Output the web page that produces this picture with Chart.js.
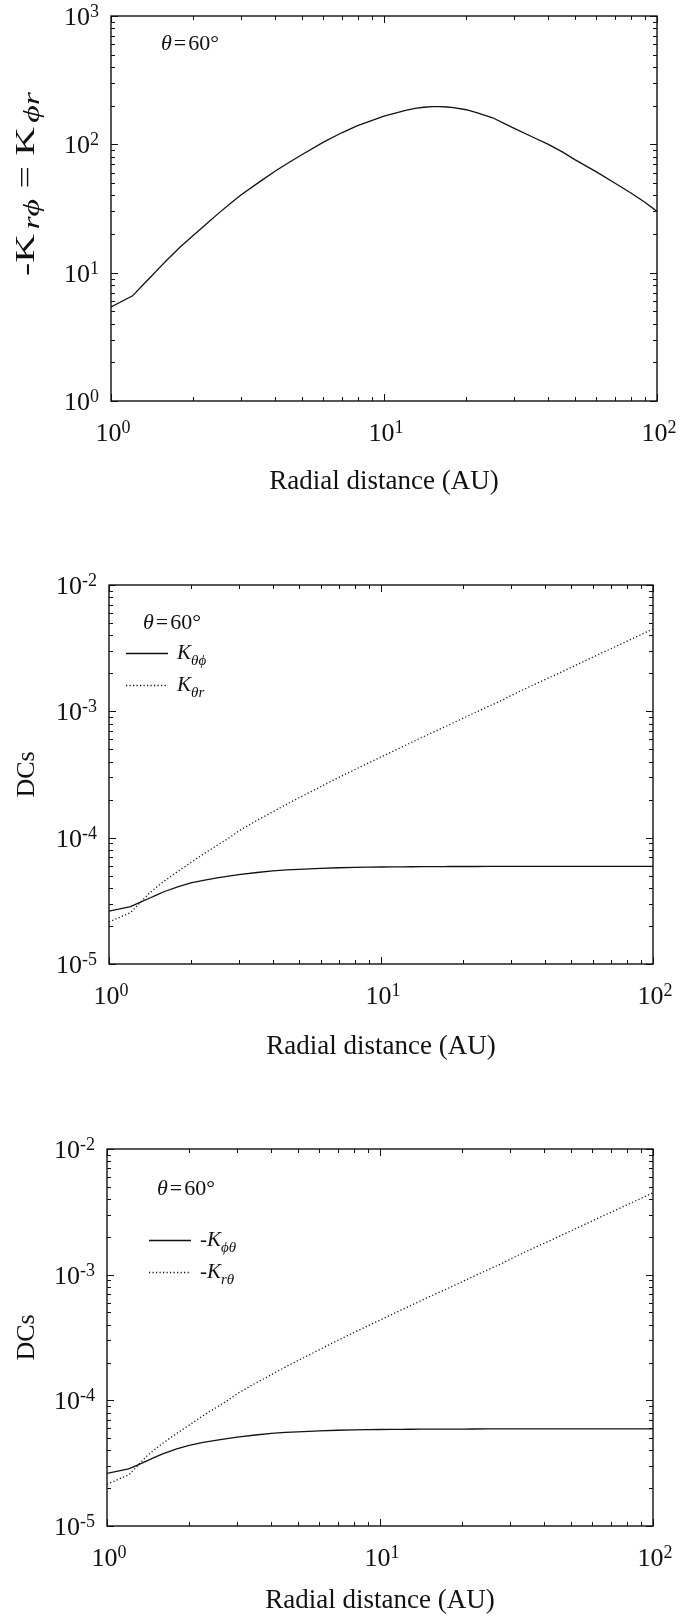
<!DOCTYPE html>
<html>
<head>
<meta charset="utf-8">
<script src="https://cdn.jsdelivr.net/npm/chart.js@4.4.1/dist/chart.umd.min.js"></script>
<style>
  body { margin: 0; background: #fff; }
  .panel { position: absolute; left: 0; }
</style>
</head>
<body>
<canvas id="topPanel" class="panel" width="680" height="540" style="top:0px"></canvas>
<canvas id="midPanel" class="panel" width="680" height="560" style="top:540px"></canvas>
<canvas id="lowPanel" class="panel" width="680" height="516" style="top:1100px"></canvas>
<script>
// radial distance grid (AU), shared by all three panels
var radius = [1, 1.2, 1.3, 1.4, 1.5, 1.6, 1.8, 2, 2.25, 2.5, 2.75, 3, 3.5, 4, 4.5, 5, 6, 7, 8, 9, 10,
  11, 12, 13, 14, 15, 16, 17, 18, 20, 22, 25, 28, 30, 35, 40, 45, 50, 60, 70, 80, 90, 100];

// top panel: -K_r(phi) = K_(phi)r
var kRPhi = [5.4, 6.6, 7.9, 9.3, 10.85, 12.5, 16, 19.5, 24.3, 29.5, 34.9, 40.5, 51, 62, 72.5, 83, 104, 123, 140, 153, 166,
  175, 184, 190.5, 194.5, 196.6, 196.6, 195.4, 193, 186, 176, 161, 143, 133, 114, 100, 87.3, 76, 61, 50, 42, 35.5, 30];

// middle panel
var kThetaPhi = [2.62e-5, 2.85e-5, 3.07e-5, 3.3e-5, 3.53e-5, 3.75e-5, 4.1e-5, 4.38e-5, 4.62e-5, 4.8e-5, 4.96e-5, 5.1e-5, 5.3e-5, 5.45e-5, 5.55e-5, 5.62e-5, 5.72e-5, 5.78e-5, 5.82e-5, 5.845e-5, 5.86e-5,
  5.87e-5, 5.88e-5, 5.885e-5, 5.89e-5, 5.9e-5, 5.9e-5, 5.905e-5, 5.91e-5, 5.91e-5, 5.915e-5, 5.92e-5, 5.92e-5, 5.92e-5, 5.92e-5, 5.92e-5, 5.92e-5, 5.92e-5, 5.92e-5, 5.92e-5, 5.92e-5, 5.92e-5, 5.92e-5];
var kThetaR = [2.15e-5, 2.55e-5, 3.05e-5, 3.6e-5, 4.08e-5, 4.55e-5, 5.45e-5, 6.35e-5, 7.55e-5, 8.7e-5, 9.9e-5, 1.13e-4, 1.37e-4, 1.6e-4, 1.84e-4, 2.07e-4, 2.53e-4, 3.0e-4, 3.45e-4, 3.9e-4, 4.35e-4,
  4.8e-4, 5.25e-4, 5.7e-4, 6.15e-4, 6.6e-4, 7.03e-4, 7.46e-4, 7.9e-4, 8.8e-4, 9.7e-4, 1.1e-3, 1.23e-3, 1.33e-3, 1.56e-3, 1.78e-3, 2.0e-3, 2.23e-3, 2.68e-3, 3.13e-3, 3.58e-3, 4.03e-3, 4.48e-3];

// bottom panel
var kPhiTheta = [2.62e-5, 2.85e-5, 3.07e-5, 3.3e-5, 3.53e-5, 3.75e-5, 4.1e-5, 4.38e-5, 4.62e-5, 4.8e-5, 4.96e-5, 5.1e-5, 5.3e-5, 5.45e-5, 5.55e-5, 5.62e-5, 5.72e-5, 5.78e-5, 5.82e-5, 5.845e-5, 5.86e-5,
  5.87e-5, 5.88e-5, 5.885e-5, 5.89e-5, 5.9e-5, 5.9e-5, 5.905e-5, 5.91e-5, 5.91e-5, 5.915e-5, 5.92e-5, 5.92e-5, 5.92e-5, 5.92e-5, 5.92e-5, 5.92e-5, 5.92e-5, 5.92e-5, 5.92e-5, 5.92e-5, 5.92e-5, 5.92e-5];
var kRTheta = [2.15e-5, 2.55e-5, 3.05e-5, 3.6e-5, 4.08e-5, 4.55e-5, 5.45e-5, 6.35e-5, 7.55e-5, 8.7e-5, 9.9e-5, 1.13e-4, 1.37e-4, 1.6e-4, 1.84e-4, 2.07e-4, 2.53e-4, 3.0e-4, 3.45e-4, 3.9e-4, 4.35e-4,
  4.8e-4, 5.25e-4, 5.7e-4, 6.15e-4, 6.6e-4, 7.03e-4, 7.46e-4, 7.9e-4, 8.8e-4, 9.7e-4, 1.1e-3, 1.23e-3, 1.33e-3, 1.56e-3, 1.78e-3, 2.0e-3, 2.23e-3, 2.68e-3, 3.13e-3, 3.58e-3, 4.03e-3, 4.48e-3];

// decade ticks and their exponents
var xTicks = [1, 10, 100];
var xTickExps = ['0', '1', '2'];
var kTicks = [1, 10, 100, 1000];
var kTickExps = ['0', '1', '2', '3'];
var dcTicks = [1e-5, 1e-4, 1e-3, 1e-2];
var dcTickExps = ['-5', '-4', '-3', '-2'];

var SERIF = '"Liberation Serif", "Times New Roman", Times, serif';
var INK = '#111';
var DOTS = [1.2, 2.3];
var PHI = '\u03d5', THETA = '\u03b8';

function font(size, italic) {
  return (italic ? 'italic ' : '') + size + 'px ' + SERIF;
}

function richWidth(ctx, parts) {
  var w = 0;
  parts.forEach(function (p) {
    ctx.font = font(p.size, p.italic);
    w += ctx.measureText(p.text).width + (p.gap || 0);
  });
  return w;
}

function drawRich(ctx, parts, x, y) {
  parts.forEach(function (p) {
    ctx.font = font(p.size, p.italic);
    ctx.fillText(p.text, x, y + (p.dy || 0));
    x += ctx.measureText(p.text).width + (p.gap || 0);
  });
}

function powerParts(exp) {
  return [{text: '10', size: 26}, {text: exp, size: 18, dy: -8}];
}

function points(ys) {
  return radius.map(function (r, i) { return {x: r, y: ys[i]}; });
}

// frame with inward ticks on all sides, labels, titles and the hand-made legend
var paperAxes = {
  id: 'paperAxes',
  afterDraw: function (chart, args, opts) {
    var ctx = chart.ctx, a = chart.chartArea;
    var xs = chart.scales.x, ys = chart.scales.y;
    ctx.save();
    ctx.fillStyle = INK;
    ctx.strokeStyle = INK;

    // ticks
    ctx.lineWidth = 1;
    ctx.beginPath();
    opts.xTicks.forEach(function (d) {
      for (var k = 1; k < 10; k++) {
        var v = d * k;
        if (v > xs.max * 1.0001) break;
        var px = Math.round(xs.getPixelForValue(v)) + 0.5;
        var len = k === 1 ? 7 : 4;
        ctx.moveTo(px, a.bottom); ctx.lineTo(px, a.bottom - len);
        ctx.moveTo(px, a.top); ctx.lineTo(px, a.top + len);
      }
    });
    opts.yTicks.forEach(function (d) {
      for (var k = 1; k < 10; k++) {
        var v = d * k;
        if (v > ys.max * 1.0001) break;
        var py = Math.round(ys.getPixelForValue(v)) + 0.5;
        var len = k === 1 ? 7 : 4;
        ctx.moveTo(a.left, py); ctx.lineTo(a.left + len, py);
        ctx.moveTo(a.right, py); ctx.lineTo(a.right - len, py);
      }
    });
    ctx.stroke();

    // frame
    ctx.lineWidth = 1.4;
    ctx.strokeRect(a.left, a.top, a.right - a.left, a.bottom - a.top);

    // tick labels
    ctx.textBaseline = 'alphabetic';
    ctx.textAlign = 'left';
    opts.xTicks.forEach(function (v, i) {
      var parts = powerParts(opts.xExps[i]);
      var w = richWidth(ctx, parts);
      drawRich(ctx, parts, xs.getPixelForValue(v) - w / 2 + 2, a.bottom + 40);
    });
    opts.yTicks.forEach(function (v, i) {
      var parts = powerParts(opts.yExps[i]);
      var w = richWidth(ctx, parts);
      drawRich(ctx, parts, a.left - 12 - w, ys.getPixelForValue(v) + 9);
    });

    // x title
    ctx.font = font(27);
    ctx.textAlign = 'center';
    ctx.fillText('Radial distance (AU)', (a.left + a.right) / 2, a.bottom + opts.xTitleGap);

    // y title, rotated
    ctx.textAlign = 'left';
    var tw = richWidth(ctx, opts.yTitle);
    ctx.save();
    ctx.translate(opts.yTitleX, opts.yTitleCenter || (a.top + a.bottom) / 2);
    ctx.rotate(-Math.PI / 2);
    if (opts.yTitleLength) ctx.scale(opts.yTitleLength / tw, 1);
    drawRich(ctx, opts.yTitle, -tw / 2, 0);
    ctx.restore();

    // angle note
    drawRich(ctx, [
      {text: THETA, size: 22, italic: true, gap: 2},
      {text: '=', size: 22, gap: 2},
      {text: '60\u00b0', size: 22}
    ], opts.note.x, opts.note.y);

    // legend
    (opts.legend || []).forEach(function (item) {
      var ds = chart.data.datasets[item.index];
      ctx.save();
      ctx.lineWidth = ds.borderWidth;
      ctx.setLineDash(ds.borderDash || []);
      ctx.beginPath();
      ctx.moveTo(item.x1, item.y + 0.5);
      ctx.lineTo(item.x2, item.y + 0.5);
      ctx.stroke();
      ctx.restore();
      drawRich(ctx, item.label, item.x2 + 9, item.y + 6);
    });

    ctx.restore();
  }
};

function makeChart(id, datasets, yMin, yMax, pad, opts) {
  return new Chart(document.getElementById(id), {
    type: 'line',
    data: {datasets: datasets},
    options: {
      responsive: false,
      animation: false,
      layout: {padding: pad},
      elements: {point: {radius: 0}},
      scales: {
        x: {type: 'logarithmic', min: 1, max: 100, display: false},
        y: {type: 'logarithmic', min: yMin, max: yMax, display: false}
      },
      plugins: {
        legend: {display: false},
        tooltip: {enabled: false},
        paperAxes: opts
      }
    },
    plugins: [paperAxes]
  });
}

function solid(ys) {
  return {data: points(ys), borderColor: INK, borderWidth: 1.3, tension: 0, fill: false};
}

function dotted(ys) {
  return {data: points(ys), borderColor: INK, borderWidth: 1.3, borderDash: DOTS, tension: 0, fill: false};
}

makeChart('topPanel', [solid(kRPhi)], 1, 1000,
  {left: 111, top: 16, right: 23, bottom: 139},
  {
    xTicks: xTicks, xExps: xTickExps, yTicks: kTicks, yExps: kTickExps,
    xTitleGap: 88,
    yTitleX: 34, yTitleCenter: 184, yTitleLength: 184,
    yTitle: [
      {text: '-K', size: 27, gap: 3},
      {text: 'r' + PHI, size: 23, italic: true, dy: 5, gap: 7},
      {text: '=', size: 27, gap: 7},
      {text: 'K', size: 27, gap: 3},
      {text: PHI + 'r', size: 23, italic: true, dy: 5}
    ],
    note: {x: 161, y: 50}
  });

makeChart('midPanel', [solid(kThetaPhi), dotted(kThetaR)], 1e-5, 1e-2,
  {left: 109, top: 45, right: 27, bottom: 136},
  {
    xTicks: xTicks, xExps: xTickExps, yTicks: dcTicks, yExps: dcTickExps,
    xTitleGap: 90,
    yTitleX: 34,
    yTitle: [{text: 'DCs', size: 26}],
    note: {x: 143, y: 89},
    legend: [
      {index: 0, x1: 126, x2: 168, y: 113, label: [
        {text: 'K', size: 21, italic: true},
        {text: THETA + PHI, size: 15, italic: true, dy: 6}
      ]},
      {index: 1, x1: 126, x2: 168, y: 145, label: [
        {text: 'K', size: 21, italic: true},
        {text: THETA + 'r', size: 15, italic: true, dy: 6}
      ]}
    ]
  });

makeChart('lowPanel', [solid(kPhiTheta), dotted(kRTheta)], 1e-5, 1e-2,
  {left: 107, top: 49, right: 27, bottom: 90},
  {
    xTicks: xTicks, xExps: xTickExps, yTicks: dcTicks, yExps: dcTickExps,
    xTitleGap: 82,
    yTitleX: 34,
    yTitle: [{text: 'DCs', size: 26}],
    note: {x: 157, y: 95},
    legend: [
      {index: 0, x1: 149, x2: 191, y: 140, label: [
        {text: '-K', size: 21, italic: true},
        {text: PHI + THETA, size: 15, italic: true, dy: 6}
      ]},
      {index: 1, x1: 149, x2: 191, y: 172, label: [
        {text: '-K', size: 21, italic: true},
        {text: 'r' + THETA, size: 15, italic: true, dy: 6}
      ]}
    ]
  });
</script>
</body>
</html>
